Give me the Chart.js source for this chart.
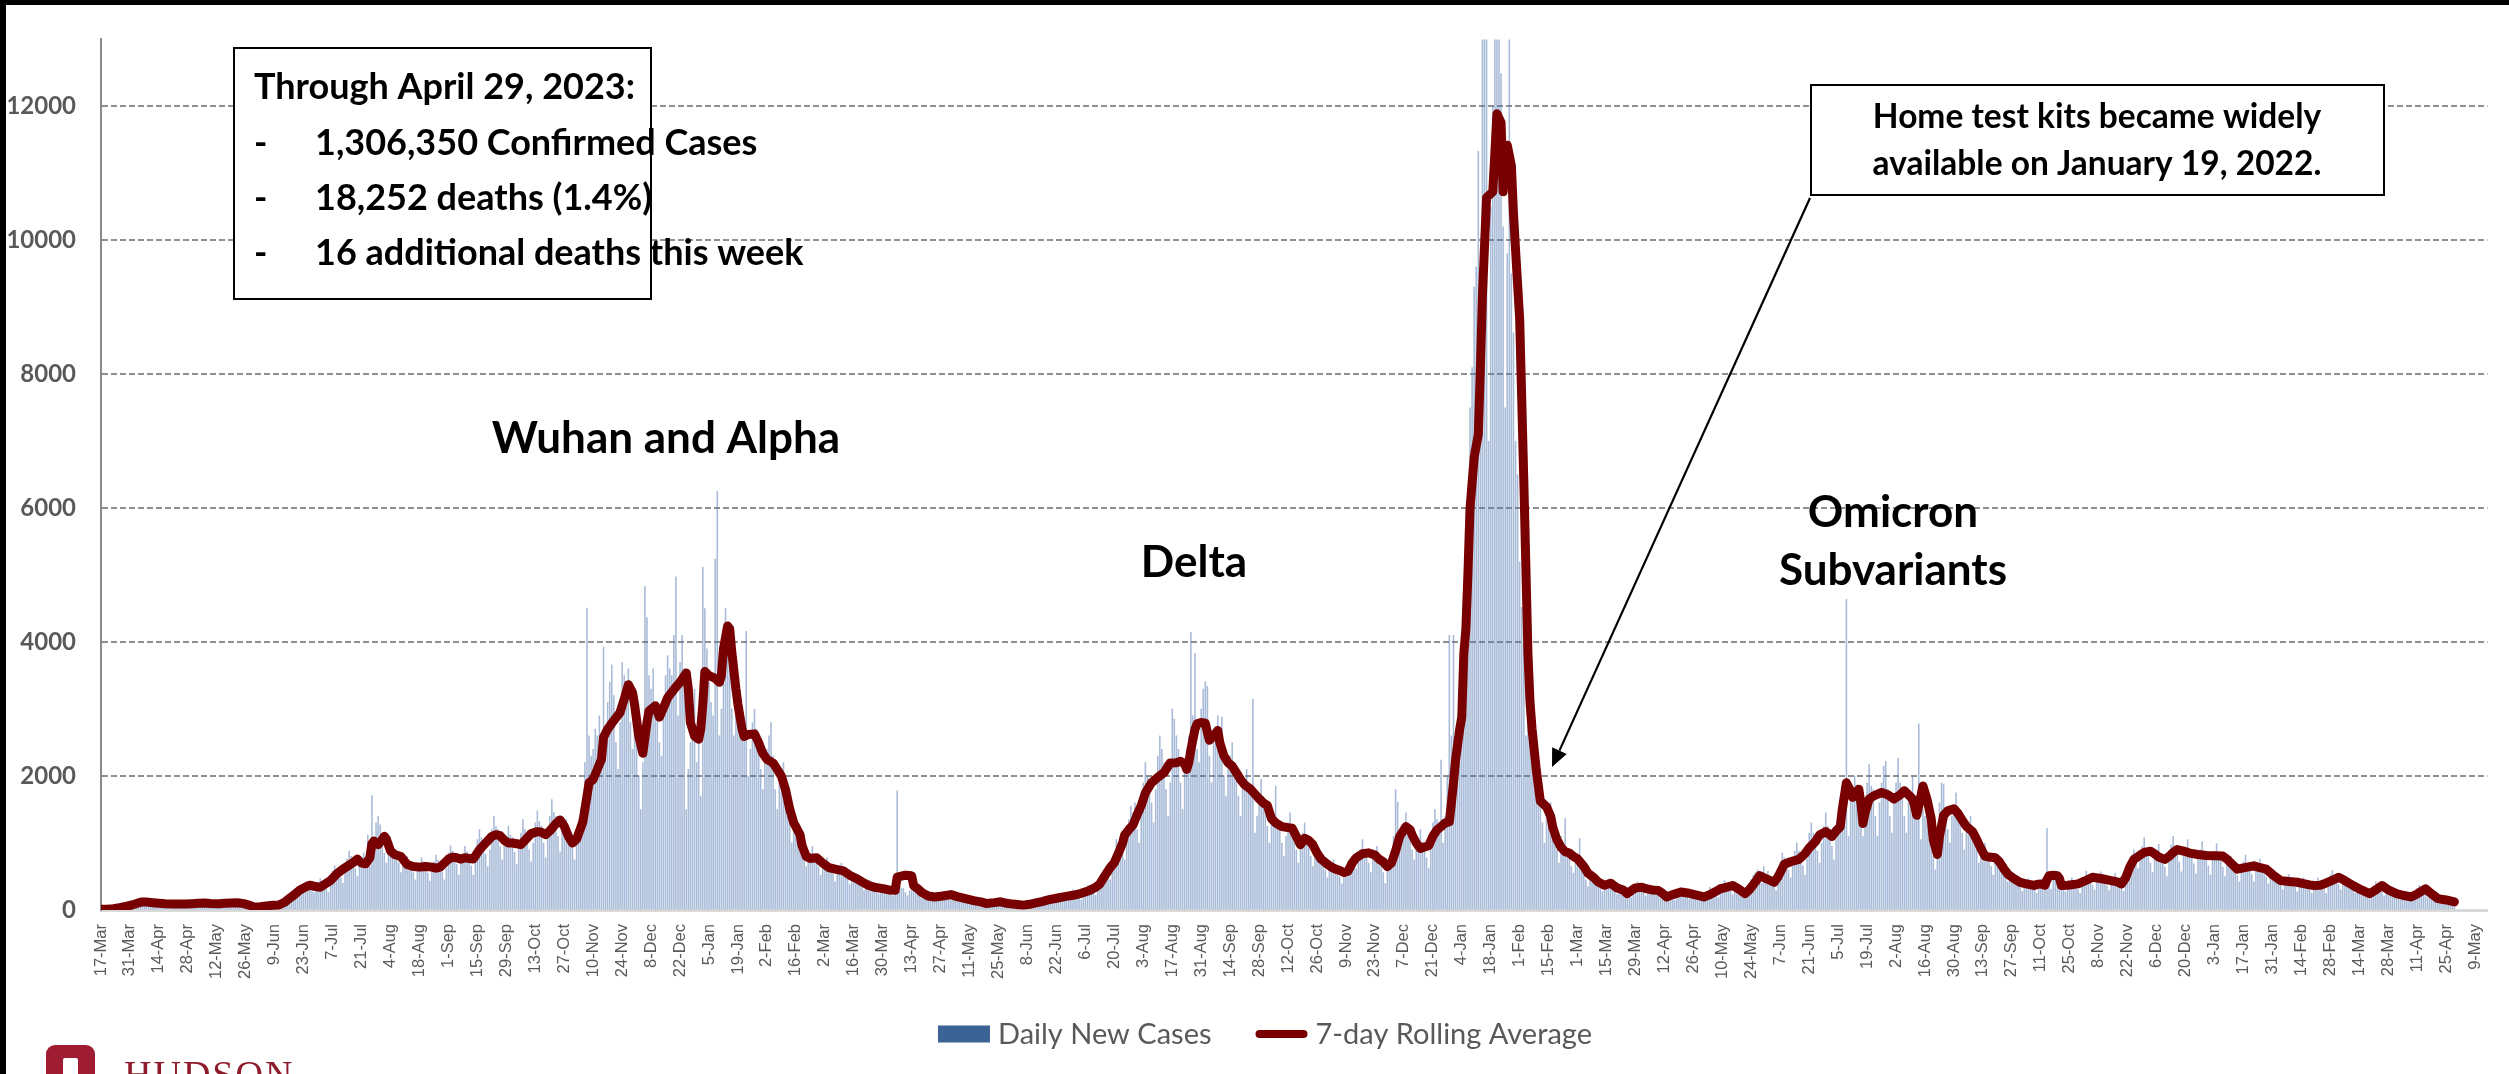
<!DOCTYPE html>
<html>
<head>
<meta charset="utf-8">
<script src="https://cdn.jsdelivr.net/npm/chart.js@4.4.1/dist/chart.umd.min.js"></script>
<style>
  html, body { margin: 0; padding: 0; background: #fff; overflow: hidden; }
  #wrap { position: relative; width: 2509px; height: 1074px; overflow: hidden; background: #fff; }
  #c { position: absolute; left: 0; top: 0; }
  .frame-left { position: absolute; left: 0; top: 0; width: 6px; height: 1074px; background: #000; }
  .frame-top { position: absolute; left: 0; top: 0; width: 2509px; height: 5px; background: #000; }
  .logo-mark { position: absolute; left: 46px; top: 1045px; width: 49px; height: 40px; background: #9e1b32; border-radius: 9px 9px 0 0; }
  .logo-mark::after { content: ""; position: absolute; left: 17px; top: 13px; width: 15px; height: 30px; background: #fff; border-radius: 2px; }
  .logo-text { position: absolute; left: 124px; top: 1055px; font: 38px "Liberation Serif", "DejaVu Serif", serif; color: #8e1b2b; letter-spacing: 2px; line-height: 1; }
</style>
</head>
<body>
<div id="wrap">
  <canvas id="c" width="2509" height="1074"></canvas>
  <div class="frame-left"></div>
  <div class="frame-top"></div>
  <div class="logo-mark"></div>
  <div class="logo-text">HUDSON</div>
</div>
<script>
// Axis labels, one every 14 days starting 17-Mar-2020
const tickLabels = ['17-Mar','31-Mar','14-Apr','28-Apr','12-May','26-May','9-Jun','23-Jun','7-Jul','21-Jul','4-Aug','18-Aug','1-Sep','15-Sep','29-Sep','13-Oct','27-Oct','10-Nov','24-Nov','8-Dec','22-Dec','5-Jan','19-Jan','2-Feb','16-Feb','2-Mar','16-Mar','30-Mar','13-Apr','27-Apr','11-May','25-May','8-Jun','22-Jun','6-Jul','20-Jul','3-Aug','17-Aug','31-Aug','14-Sep','28-Sep','12-Oct','26-Oct','9-Nov','23-Nov','7-Dec','21-Dec','4-Jan','18-Jan','1-Feb','15-Feb','1-Mar','15-Mar','29-Mar','12-Apr','26-Apr','10-May','24-May','7-Jun','21-Jun','5-Jul','19-Jul','2-Aug','16-Aug','30-Aug','13-Sep','27-Sep','11-Oct','25-Oct','8-Nov','22-Nov','6-Dec','20-Dec','3-Jan','17-Jan','31-Jan','14-Feb','28-Feb','14-Mar','28-Mar','11-Apr','25-Apr','9-May'];

// Value axis ticks
const yTicks = [0, 2000, 4000, 6000, 8000, 10000, 12000];

// Daily new cases, one value per day from 17-Mar-2020 (one week per row)
const dailyCases = [
10,14,20,25,30,22,35,
45,60,70,65,50,40,75,
95,120,140,130,110,90,140,
130,150,125,120,95,80,100,
110,120,105,100,80,65,85,
100,110,100,95,75,60,80,
105,120,110,100,85,65,90,
115,130,115,110,90,70,95,
110,125,110,105,85,65,90,
120,135,120,115,90,70,95,
80,70,55,50,45,35,55,
65,75,70,65,50,40,55,
80,95,110,130,140,120,170,
210,270,300,320,280,230,330,
380,420,390,370,300,260,350,
400,470,430,410,320,260,380,
580,660,620,600,480,400,560,
760,880,800,780,620,500,720,
720,850,760,1120,650,1710,1000,
1300,1400,1270,1100,850,700,900,
880,950,900,850,700,560,750,
720,800,740,700,560,450,620,
700,780,720,690,550,430,600,
720,820,750,720,570,450,620,
850,960,880,840,680,520,720,
840,950,870,830,660,520,720,
1050,1200,1080,1040,830,650,900,
1200,1400,1250,1200,950,750,1050,
1100,1250,1120,1080,860,680,950,
1150,1350,1200,1150,900,720,1000,
1300,1480,1320,1250,1000,780,1100,
1400,1650,1460,1400,1100,870,1200,
1200,1350,1200,1150,930,750,1050,
1350,1500,1600,2200,4510,2600,2300,
2400,2700,2600,2900,2200,3925,2500,
3100,3400,3660,3200,2500,2100,2800,
3700,3500,3400,3600,2800,2400,3100,
2600,2000,1500,2200,4830,4365,3500,
3300,3600,3100,2900,2500,2300,3100,
3500,3800,3600,3500,4100,4975,2900,
3700,4100,3600,1500,2100,2500,3000,
3300,2200,2800,1700,5120,4500,3900,
3400,3100,2900,5240,6250,2600,3000,
4000,4500,3900,3700,3000,2600,3300,
3000,3300,2900,2800,4160,2000,2400,
2800,3000,2700,2600,2100,1800,2400,
2400,2600,2800,2300,1800,1500,1900,
2000,2200,1800,1600,1300,1000,1200,
1100,1200,1000,950,800,650,850,
850,950,820,780,640,520,700,
700,780,680,650,540,420,580,
620,700,600,570,460,380,520,
480,540,470,440,360,290,400,
390,440,380,360,290,240,330,
340,380,330,320,260,210,290,
1780,380,330,320,260,210,290,
290,320,280,260,210,170,240,
230,250,220,210,170,140,190,
250,270,240,230,190,150,210,
200,230,190,180,150,120,170,
150,170,140,130,110,90,120,
120,140,110,105,85,70,100,
125,145,115,110,90,70,100,
90,105,85,80,65,55,75,
110,125,105,100,80,65,95,
160,190,160,150,120,100,140,
210,240,200,190,160,125,180,
260,300,250,240,190,150,220,
300,360,340,330,270,220,310,
420,520,600,650,560,450,750,
800,1050,1000,1100,900,750,1200,
1350,1550,1450,1600,1200,1000,1560,
1900,2200,2000,1950,1600,1300,1800,
2300,2600,2400,2200,1800,1400,1900,
3000,2850,2600,2400,1900,1500,2100,
2300,2600,4145,2900,3830,2400,2200,
3000,3300,3410,3340,2300,1900,2600,
2700,2900,2600,2880,2000,1700,2300,
2300,2500,2200,2100,1700,1400,1900,
1900,2100,1850,1800,3150,1150,1400,
1700,1950,1700,1600,1250,1000,1400,
1400,1850,1350,1250,1000,800,1100,
1300,1450,1250,1150,900,700,1000,
1150,1300,1100,1000,800,650,900,
800,900,780,740,600,480,650,
650,750,640,600,490,390,540,
640,720,700,800,750,620,850,
900,1050,900,860,700,560,780,
850,950,800,700,560,400,620,
750,900,1100,1800,1610,1200,1100,
1250,1450,1250,1150,900,750,1000,
1050,1200,1020,980,780,620,900,
1300,1500,1350,1300,2240,1000,1400,
2000,4100,2600,4100,2100,2500,3300,
3600,4800,5800,6240,7500,8100,9300,
9600,11330,8500,14500,16000,13500,7000,
10500,12000,14000,15500,13800,12490,10200,
7500,9800,14200,9500,8620,7000,6500,
5200,4520,4000,2600,4340,3150,2200,
2400,2000,1800,1600,1300,1000,1500,
1500,1600,1300,1250,900,700,1100,
900,1365,900,850,650,550,700,
750,1070,700,650,450,350,550,
480,560,460,430,330,270,400,
400,460,380,360,280,230,330,
320,370,310,290,230,180,270,
370,420,360,340,270,210,310,
310,350,300,280,220,180,260,
240,280,240,220,170,140,200,
290,330,280,260,200,160,240,
230,260,220,200,160,130,190,
290,340,300,280,220,180,260,
390,440,380,360,280,230,330,
310,360,300,280,220,180,260,
450,520,560,600,500,400,650,
500,580,480,460,360,290,420,
720,850,780,760,600,480,700,
880,1000,880,840,660,520,760,
1150,1300,1150,1100,880,700,1000,
1250,1450,1250,1200,950,750,1050,
1350,1550,1400,1300,4640,1100,1700,
1800,2000,1750,1700,1350,1100,1550,
1900,2170,1850,1800,1400,1100,1600,
1900,2150,2220,1800,1400,1150,1650,
1900,2270,1900,1800,1400,1150,1650,
1750,2000,1700,1650,2780,1050,1500,
1400,1500,1300,1100,800,600,1000,
1600,1900,1880,1500,1200,1000,1400,
1550,1750,1500,1450,1150,900,1300,
1200,1400,1200,1150,900,700,1000,
870,1000,860,820,650,520,740,
700,800,690,650,520,420,600,
460,530,450,430,340,280,400,
410,470,400,380,300,250,350,
420,480,450,1220,380,310,450,
450,520,440,420,330,270,390,
420,480,410,390,310,250,360,
500,580,490,470,370,300,430,
500,570,480,460,360,290,420,
480,550,470,440,350,280,420,
640,760,820,900,760,620,850,
950,1080,920,880,700,560,800,
860,980,840,800,640,500,720,
970,1100,950,900,720,570,820,
920,1050,900,860,690,540,780,
900,1020,880,840,660,520,760,
870,990,850,810,640,500,740,
700,800,690,650,520,420,600,
720,820,700,670,530,420,610,
670,760,650,620,490,390,570,
520,590,500,480,380,300,440,
460,530,450,430,340,270,390,
420,480,410,390,310,250,350,
420,480,410,390,310,250,350,
520,590,500,480,380,300,440,
430,490,420,400,310,250,360,
300,340,290,270,220,170,250,
360,420,350,340,270,210,310,
290,330,280,260,210,170,240,
230,260,220,210,170,140,200,
320,370,310,290,230,180,270,
220,250,210,200,160,130,190,
150,180,150,140,110
];

// 7-day rolling average: day offset from 17-Mar-2020 and value
const avgDay = [0,3,6,9,12,15,18,20,22,25,28,31,35,38,41,44,47,50,53,57,60,63,66,69,72,74,77,80,83,86,89,91,94,96,99,101,103,106,108,111,114,117,120,122,124,126,128,130,131,132,134,136,137,138,140,142,145,148,151,154,157,160,162,164,166,168,170,172,174,176,178,180,183,186,189,191,193,195,197,199,201,203,205,208,211,213,215,217,220,222,224,226,228,230,232,233,235,236,238,240,242,243,245,248,251,253,255,257,258,260,262,264,265,267,268,270,272,274,276,278,280,283,284,285,287,289,290,291,292,294,297,299,300,301,303,304,305,307,308,310,311,313,316,318,320,322,325,327,329,331,333,335,338,339,341,343,346,349,352,355,359,362,365,368,371,374,378,381,384,385,387,389,391,392,393,395,397,400,403,407,411,414,418,422,426,428,432,435,438,441,444,446,449,452,455,458,462,466,470,474,478,481,483,485,488,490,492,494,495,497,499,501,503,505,508,511,514,517,520,522,524,525,526,527,529,530,532,534,535,536,538,540,541,543,545,547,549,551,553,556,558,560,562,564,566,568,571,574,576,578,580,581,582,584,586,588,590,593,595,597,599,601,603,605,607,610,613,616,618,620,622,624,626,628,630,631,633,634,636,638,640,642,644,646,648,650,652,653,654,655,657,658,659,660,661,662,664,666,667,668,670,673,674,675,677,678,680,682,683,684,686,688,690,691,692,694,696,699,701,702,704,706,708,710,712,714,717,719,722,724,727,730,733,736,738,740,742,745,747,750,753,755,757,760,764,768,772,775,778,781,783,785,789,791,793,795,797,800,802,805,809,811,814,817,821,824,826,829,831,834,835,837,839,841,842,844,846,847,849,850,851,852,853,855,857,861,864,867,870,872,874,876,877,878,880,881,883,885,886,888,889,891,893,896,898,900,902,905,907,909,911,913,916,918,920,922,925,928,931,935,936,938,940,941,942,944,946,947,948,951,956,959,963,967,972,975,977,979,981,983,986,988,991,993,995,998,1000,1002,1004,1007,1010,1014,1018,1022,1026,1028,1030,1033,1036,1041,1043,1047,1050,1054,1058,1062,1065,1068,1070,1073,1075,1078,1082,1085,1089,1093,1097,1100,1103,1106,1110,1113,1117,1120,1124,1127,1130,1134,1138];
const avgValue = [10,12,18,35,55,75,105,120,118,108,100,92,90,88,88,95,102,105,98,95,100,105,108,95,70,45,50,60,70,75,120,170,240,295,345,370,355,340,380,440,540,610,670,710,760,700,690,780,990,1030,975,1050,1100,1060,880,830,800,680,650,640,650,640,625,640,700,760,790,780,760,780,770,760,900,1000,1100,1125,1110,1040,1000,1000,990,975,1040,1140,1170,1160,1125,1180,1290,1345,1250,1100,1000,1060,1230,1316,1700,1900,1950,2100,2250,2580,2700,2830,2950,3150,3365,3250,3070,2600,2340,2800,2975,3020,3050,2880,3020,3170,3250,3330,3400,3540,3300,2800,2600,2550,2700,3070,3560,3500,3460,3400,3500,3900,4240,4200,3860,3300,3070,2700,2590,2620,2630,2500,2340,2250,2195,2100,2000,1800,1510,1300,1125,960,800,770,780,700,633,610,585,520,475,420,370,340,320,300,295,490,505,520,515,510,360,317,260,210,195,210,230,200,170,140,118,98,110,122,100,88,80,73,85,105,125,150,175,200,220,250,293,340,390,490,633,707,850,1000,1120,1200,1268,1420,1560,1750,1900,1980,2050,2195,2200,2220,2180,2100,2200,2390,2700,2780,2800,2790,2650,2535,2600,2680,2500,2300,2200,2150,2050,1950,1870,1800,1730,1660,1600,1560,1365,1300,1245,1230,1220,1100,975,1020,1070,1040,975,850,760,683,640,610,590,560,580,700,780,840,853,820,760,720,650,700,880,1100,1195,1245,1200,1120,1000,920,940,960,1100,1194,1245,1300,1316,1600,1900,2240,2700,2880,3827,4200,5036,6000,6760,7103,8100,9173,10640,10725,11300,11890,11760,10725,11420,11110,10400,9860,8826,6410,3827,3100,2700,2100,1625,1540,1400,1236,1050,937,870,850,800,763,650,550,480,417,370,400,330,300,244,290,330,341,320,300,293,250,195,230,268,250,220,195,230,280,317,330,366,330,290,244,300,420,512,470,414,500,683,720,756,840,926,1020,1120,1170,1150,1097,1180,1243,1500,1900,1780,1682,1760,1804,1600,1292,1450,1658,1700,1755,1720,1658,1720,1780,1720,1658,1550,1414,1700,1853,1650,1365,1050,829,1100,1414,1480,1511,1440,1341,1250,1170,1050,920,804,790,780,720,620,537,470,414,390,366,380,390,370,450,512,520,512,470,366,370,390,430,488,470,439,420,390,480,640,756,820,860,878,840,790,756,800,860,902,880,850,829,815,810,805,760,700,610,630,659,640,610,530,439,425,414,395,375,366,370,390,430,488,440,366,300,244,300,366,300,244,220,195,240,317,240,170,150,122];

// Text placed on the plot
const summaryTitle = 'Through April 29, 2023:';
const summaryRows = ['1,306,350 Confirmed Cases', '18,252 deaths (1.4%)', '16 additional deaths this week'];
const noteLines = ['Home test kits became widely', 'available on January 19, 2022.'];
const waveLabels = [
  { lines: ['Wuhan and Alpha'], x: 666, y: 453 },
  { lines: ['Delta'], x: 1194, y: 577 },
  { lines: ['Omicron', 'Subvariants'], x: 1893, y: 527 }
];

const FONT = 'Lato, "Noto Sans", sans-serif';

const annotations = {
  id: 'annotations',
  afterDraw(chart) {
    const c = chart.ctx;
    c.save();
    // summary box
    c.fillStyle = '#fff';
    c.fillRect(234, 48, 417, 251);
    c.lineWidth = 2;
    c.strokeStyle = '#000';
    c.strokeRect(234, 48, 417, 251);
    c.fillStyle = '#000';
    c.textBaseline = 'alphabetic';
    c.textAlign = 'left';
    c.font = 'bold 36px ' + FONT;
    c.fillText(summaryTitle, 254, 99);
    const rowY = [155, 210, 265];
    summaryRows.forEach((t, i) => {
      c.fillText('-', 254, rowY[i]);
      c.fillText(t, 315, rowY[i]);
    });

    // note box with arrow
    c.fillStyle = '#fff';
    c.fillRect(1811, 85, 573, 110);
    c.strokeRect(1811, 85, 573, 110);
    c.fillStyle = '#000';
    c.textAlign = 'center';
    c.font = 'bold 33.5px ' + FONT;
    c.fillText(noteLines[0], 2097, 128);
    c.fillText(noteLines[1], 2097, 175);

    const x0 = 1810, y0 = 198, x1 = 1552, y1 = 767;
    const ang = Math.atan2(y1 - y0, x1 - x0);
    const head = 18, half = 8;
    const bx = x1 - head * Math.cos(ang), by = y1 - head * Math.sin(ang);
    c.lineWidth = 2.2;
    c.beginPath();
    c.moveTo(x0, y0);
    c.lineTo(bx, by);
    c.stroke();
    c.beginPath();
    c.moveTo(x1, y1);
    c.lineTo(bx + half * Math.sin(ang), by - half * Math.cos(ang));
    c.lineTo(bx - half * Math.sin(ang), by + half * Math.cos(ang));
    c.closePath();
    c.fill();

    // wave names
    c.font = 'bold 44px ' + FONT;
    waveLabels.forEach(w => {
      w.lines.forEach((t, i) => c.fillText(t, w.x, w.y + i * 58));
    });
    c.restore();
  }
};

const bottomLegend = {
  id: 'bottomLegend',
  afterDraw(chart) {
    const c = chart.ctx;
    const [lineDs, barDs] = chart.data.datasets;
    c.save();
    c.font = '29px ' + FONT;
    c.textBaseline = 'middle';
    c.textAlign = 'left';
    const y = 1034, sw = 52, gap = 8, between = 44;
    const w1 = c.measureText(barDs.label).width;
    const w2 = c.measureText(lineDs.label).width;
    const total = sw + gap + w1 + between + sw + gap + w2;
    let x = 1265 - total / 2;
    c.fillStyle = barDs.legendColor;
    c.fillRect(x, y - 8.5, sw, 17);
    x += sw + gap;
    c.fillStyle = '#595959';
    c.fillText(barDs.label, x, y + 1);
    x += w1 + between;
    c.strokeStyle = lineDs.borderColor;
    c.lineWidth = 8;
    c.lineCap = 'round';
    c.beginPath();
    c.moveTo(x + 4, y);
    c.lineTo(x + sw - 4, y);
    c.stroke();
    x += sw + gap;
    c.fillText(lineDs.label, x, y + 1);
    c.restore();
  }
};

new Chart(document.getElementById('c'), {
  type: 'bar',
  data: {
    datasets: [
      {
        type: 'line',
        label: '7-day Rolling Average',
        data: avgDay.map((d, i) => ({ x: d, y: avgValue[i] })),
        borderColor: '#780000',
        backgroundColor: '#780000',
        borderWidth: 9,
        borderJoinStyle: 'round',
        borderCapStyle: 'round',
        pointRadius: 0,
        tension: 0,
        order: 0
      },
      {
        type: 'bar',
        label: 'Daily New Cases',
        data: dailyCases.map((v, i) => ({ x: i, y: v })),
        backgroundColor: 'rgba(86,122,178,0.52)',
        legendColor: '#3b6394',
        barThickness: 0.9,
        borderWidth: 0,
        order: 1
      }
    ]
  },
  options: {
    responsive: false,
    animation: false,
    layout: { padding: { top: 21, right: 19, left: 0, bottom: 0 } },
    plugins: { legend: { display: false }, tooltip: { enabled: false } },
    scales: {
      x: {
        type: 'linear',
        min: 0,
        max: 1154,
        offset: false,
        grid: { display: false, drawTicks: false },
        border: { display: true, color: '#d9d9d9', width: 3 },
        afterBuildTicks: s => { s.ticks = tickLabels.map((_, i) => ({ value: i * 14 })); },
        afterFit: s => { s.height = 164; },
        ticks: {
          autoSkip: false,
          minRotation: 90,
          maxRotation: 90,
          padding: 14,
          color: '#595959',
          font: { family: '"Liberation Sans", Arial, sans-serif', size: 16.5 },
          callback: v => tickLabels[Math.round(v / 14)]
        }
      },
      y: {
        min: 0,
        max: 13000,
        afterFit: s => { s.width = 101; },
        afterBuildTicks: s => { s.ticks = yTicks.map(v => ({ value: v })); },
        ticks: {
          padding: 25,
          color: '#595959',
          font: { family: FONT, size: 24, weight: 'bold' },
          callback: v => String(v)
        },
        grid: {
          drawTicks: false,
          lineWidth: 2,
          color: c => (c.tick && c.tick.value === 0) ? 'rgba(0,0,0,0)' : '#8f8f8f'
        },
        border: { display: true, color: '#8a8a8a', width: 2, dash: [6, 3] }
      }
    }
  },
  plugins: [annotations, bottomLegend]
});
</script>
</body>
</html>
